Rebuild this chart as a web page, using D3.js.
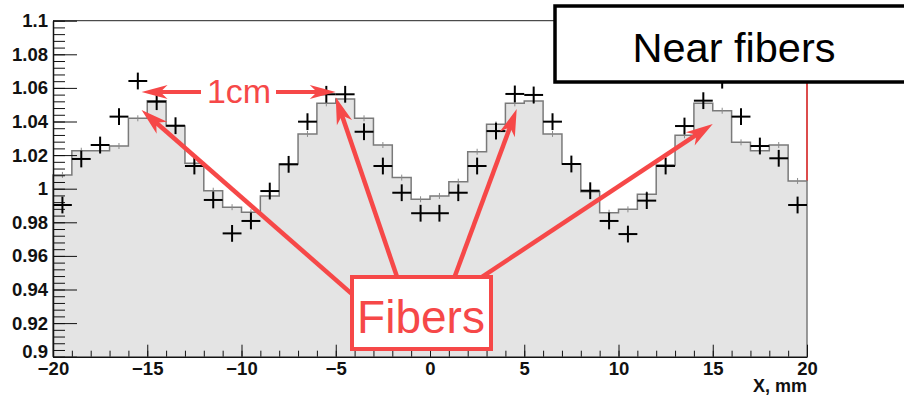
<!DOCTYPE html>
<html>
<head>
<meta charset="utf-8">
<script src="https://cdn.jsdelivr.net/npm/d3@7"></script>
<style>
  html, body { margin: 0; padding: 0; background: #fff; }
  svg { display: block; }
</style>
</head>
<body>
<svg id="chart" width="904" height="398"></svg>
<script>
// ---- data ----
const binEdgesStart = -20;   // first bin lower edge, mm
const binWidth = 1;          // mm
const histValues = [
  1.0082, 1.0226, 1.0226, 1.0254, 1.0419, 1.0524, 1.0373, 1.0151, 0.9988, 0.9890,
  0.9860, 0.9957, 1.0147, 1.0326, 1.0508, 1.0534, 1.0419, 1.0260, 1.0066, 0.9937,
  0.9957, 1.0042, 1.0220, 1.0383, 1.0508, 1.0522, 1.0326, 1.0147, 0.9982, 0.9857,
  0.9877, 0.9967, 1.0141, 1.0318, 1.0508, 1.0464, 1.0276, 1.0226, 1.0260, 1.0046
];
const pointValues = [
  0.9903, 1.0177, 1.0260, 1.0429, 1.0641, 1.0518, 1.0375, 1.0135, 0.9933, 0.9734,
  0.9808, 0.9986, 1.0145, 1.0399, 1.0562, 1.0562, 1.0339, 1.0135, 0.9976, 0.9854,
  0.9854, 0.9976, 1.0135, 1.0343, 1.0564, 1.0558, 1.0399, 1.0147, 0.9988, 0.9808,
  0.9730, 0.9929, 1.0135, 1.0373, 1.0524, 1.0646, 1.0429, 1.0254, 1.0181, 0.9903
];
const pointError = 0.005;
const xTickValues = [-20, -15, -10, -5, 0, 5, 10, 15, 20];
const yTickValues = [0.9, 0.92, 0.94, 0.96, 0.98, 1.0, 1.02, 1.04, 1.06, 1.08, 1.1];
const yTickLabels = ["0.9", "0.92", "0.94", "0.96", "0.98", "1", "1.02", "1.04", "1.06", "1.08", "1.1"];
const xTitle = "X, mm";
const legendText = "Near fibers";
const fibersLabel = "Fibers";
const spacingLabel = "1cm";
// annotation anchors in data coordinates [x mm, value]
const spacingArrow = { from: [-15.3, 1.0575], to: [-5, 1.0575] };
const fiberArrowTips = [[-15.3, 1.0469], [-5.0, 1.0545], [4.6, 1.0474], [15.0, 1.0385]];
const fiberArrowTails = [[-3.77, 0.9337], [-1.33, 0.9337], [0.85, 0.9337], [0.9, 0.9337]];

// ---- layout ----
const svg = d3.select("#chart");
const x = d3.scaleLinear().domain([-20, 20]).range([53, 807]);
const y = d3.scaleLinear().domain([0.9, 1.1]).range([356.7, 20.7]);
const red = "#f64848";
const font = "Liberation Sans, Arial, sans-serif";

// ---- histogram ----
const histData = histValues.map((v, i) => ({ x0: binEdgesStart + i * binWidth, v }));
const stepData = histData.concat([{ x0: binEdgesStart + histValues.length * binWidth, v: histValues[histValues.length - 1] }]);

svg.append("path")
  .datum(stepData)
  .attr("d", d3.area().curve(d3.curveStepAfter).x(d => x(d.x0)).y0(y(0.9)).y1(d => y(d.v)))
  .attr("fill", "#e4e4e4");

// red frame line on right above histogram
svg.append("line")
  .attr("x1", x(20)).attr("x2", x(20))
  .attr("y1", y(1.1)).attr("y2", y(histValues[histValues.length - 1]))
  .attr("stroke", "#d01010").attr("stroke-width", 1.5);

// top frame line
svg.append("line")
  .attr("x1", x(-20)).attr("x2", x(20))
  .attr("y1", y(1.1)).attr("y2", y(1.1))
  .attr("stroke", "#222").attr("stroke-width", 1);

svg.append("path")
  .datum(stepData)
  .attr("d", d => {
    const line = d3.line().curve(d3.curveStepAfter).x(p => x(p.x0)).y(p => y(p.v));
    return "M" + x(-20) + "," + y(0.9) + "L" + line(d).slice(1) + "L" + x(20) + "," + y(0.9);
  })
  .attr("fill", "none").attr("stroke", "#7a7a7a").attr("stroke-width", 1.5);

// small histogram error ticks
svg.append("g").selectAll("line")
  .data(histData)
  .join("line")
  .attr("x1", d => x(d.x0 + binWidth / 2)).attr("x2", d => x(d.x0 + binWidth / 2))
  .attr("y1", d => y(d.v) - 3).attr("y2", d => y(d.v) + 3)
  .attr("stroke", "#8a8a8a").attr("stroke-width", 1);

// ---- axes ----
const yAxisMinor = d3.axisLeft(y).tickValues(d3.range(0, 51).map(i => 0.9 + i * 0.004)).tickSize(-12).tickFormat("");
svg.append("g").attr("transform", `translate(${x(-20)},0)`).call(yAxisMinor)
  .call(g => g.select(".domain").remove())
  .selectAll("line").attr("stroke", "#111").attr("stroke-width", 1);

const yAxis = d3.axisLeft(y).tickValues(yTickValues).tickSizeInner(-24).tickSizeOuter(0).tickPadding(5)
  .tickFormat((d, i) => yTickLabels[i]);
const gy = svg.append("g").attr("transform", `translate(${x(-20)},0)`).call(yAxis);
gy.select(".domain").attr("stroke", "#111").attr("stroke-width", 1.5);
gy.selectAll("line").attr("stroke", "#111").attr("stroke-width", 1);
gy.selectAll("text").attr("font-family", font)
  .attr("font-weight", "bold").attr("font-size", 18.5).attr("fill", "#111");
// ROOT lifts the lowest label slightly
gy.selectAll(".tick").filter(d => d === 0.9).select("text").attr("dy", "0.05em");

const xAxisMinor = d3.axisBottom(x).tickValues(d3.range(-20, 21)).tickSize(-6).tickFormat("");
svg.append("g").attr("transform", `translate(0,${y(0.9)})`).call(xAxisMinor)
  .call(g => g.select(".domain").remove())
  .selectAll("line").attr("stroke", "#111").attr("stroke-width", 1);

const xAxis = d3.axisBottom(x).tickValues(xTickValues).tickSizeInner(-12).tickSizeOuter(0).tickPadding(5)
  .tickFormat(d3.format("d"));
const gx = svg.append("g").attr("transform", `translate(0,${y(0.9)})`).call(xAxis);
gx.select(".domain").attr("stroke", "#111").attr("stroke-width", 1.5);
gx.selectAll("line").attr("stroke", "#111").attr("stroke-width", 1);
gx.selectAll("text").attr("font-family", font)
  .attr("font-weight", "bold").attr("font-size", 18.5).attr("fill", "#111");

svg.append("text")
  .attr("x", x(20)).attr("y", 392)
  .attr("text-anchor", "end")
  .attr("font-family", font)
  .attr("font-weight", "bold").attr("font-size", 18).attr("fill", "#111")
  .text(xTitle);

// ---- data points (error crosses) ----
const pts = svg.append("g");
pointValues.forEach((v, i) => {
  const c = binEdgesStart + (i + 0.5) * binWidth;
  pts.append("line")
    .attr("x1", x(c - binWidth / 2)).attr("x2", x(c + binWidth / 2))
    .attr("y1", y(v)).attr("y2", y(v))
    .attr("stroke", "#000").attr("stroke-width", 2);
  pts.append("line")
    .attr("x1", x(c)).attr("x2", x(c))
    .attr("y1", y(v - pointError)).attr("y2", y(v + pointError))
    .attr("stroke", "#000").attr("stroke-width", 2);
});

// ---- annotations ----
function arrowHead(g, tip, from, len, half) {
  const dx = tip[0] - from[0], dy = tip[1] - from[1];
  const L = Math.hypot(dx, dy);
  const ux = dx / L, uy = dy / L, nx = -uy, ny = ux;
  const bx = tip[0] - ux * len, by = tip[1] - uy * len;
  const nxp = tip[0] - ux * len * 0.72, nyp = tip[1] - uy * len * 0.72;
  g.append("path")
    .attr("d", `M${tip[0]},${tip[1]} L${bx + nx * half},${by + ny * half} L${nxp},${nyp} L${bx - nx * half},${by - ny * half} Z`)
    .attr("fill", red);
}
const ann = svg.append("g");

// Fibers arrows (tails hidden under the label box)
fiberArrowTips.forEach((t, i) => {
  const tip = [x(t[0]), y(t[1])];
  const tail = [x(fiberArrowTails[i][0]), y(fiberArrowTails[i][1])];
  const L = Math.hypot(tip[0] - tail[0], tip[1] - tail[1]);
  const end = [tip[0] - (tip[0] - tail[0]) / L * 18, tip[1] - (tip[1] - tail[1]) / L * 18];
  ann.append("line")
    .attr("x1", tail[0]).attr("y1", tail[1]).attr("x2", end[0]).attr("y2", end[1])
    .attr("stroke", red).attr("stroke-width", 4.5);
  arrowHead(ann, tip, tail, 27, 8);
});

// 1cm double arrow
const sa = [x(spacingArrow.from[0]), y(spacingArrow.from[1])];
const sb = [x(spacingArrow.to[0]), y(spacingArrow.to[1])];
ann.append("line").attr("x1", sa[0] + 18).attr("x2", 201).attr("y1", sa[1]).attr("y2", sa[1])
  .attr("stroke", red).attr("stroke-width", 4);
ann.append("line").attr("x1", 276).attr("x2", sb[0] - 18).attr("y1", sb[1]).attr("y2", sb[1])
  .attr("stroke", red).attr("stroke-width", 4);
arrowHead(ann, sa, sb, 26, 7);
arrowHead(ann, sb, sa, 26, 7);
ann.append("text")
  .attr("x", 239).attr("y", 103)
  .attr("text-anchor", "middle")
  .attr("font-family", font)
  .attr("font-size", 34).attr("fill", red)
  .text(spacingLabel);

// Fibers box
ann.append("rect")
  .attr("x", 352).attr("y", 277).attr("width", 139).attr("height", 72)
  .attr("fill", "#fff").attr("stroke", red).attr("stroke-width", 4);
ann.append("text")
  .attr("x", 421).attr("y", 333)
  .attr("text-anchor", "middle")
  .attr("font-family", font)
  .attr("font-size", 46).attr("fill", red)
  .text(fibersLabel);

// Legend box
svg.append("rect")
  .attr("x", 555).attr("y", 6).attr("width", 380).attr("height", 76)
  .attr("fill", "#fff").attr("stroke", "#000").attr("stroke-width", 3.5);
svg.append("text")
  .attr("x", 734).attr("y", 62)
  .attr("text-anchor", "middle")
  .attr("font-family", font)
  .attr("font-size", 41.5).attr("fill", "#000")
  .text(legendText);
</script>
</body>
</html>
